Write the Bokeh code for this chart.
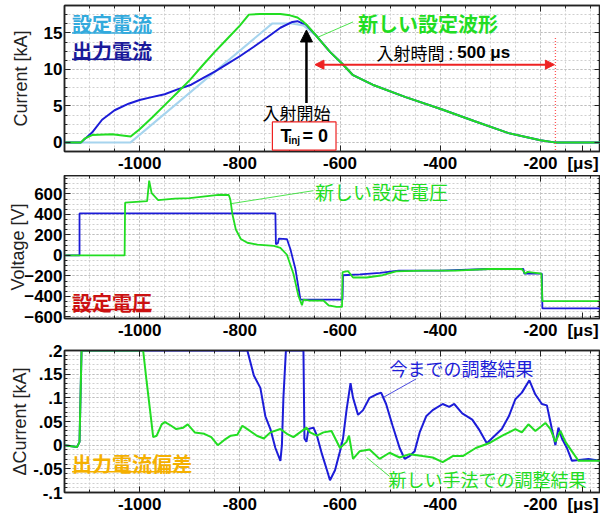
from bokeh.plotting import figure
from bokeh.layouts import column
from bokeh.models import (Range1d, SingleIntervalTicker, FixedTicker, LinearAxis, Label, Arrow,
                          NormalHead, BoxAnnotation, CustomJSTickFormatter, Grid)
from bokeh.embed import file_html
from bokeh.resources import INLINE

# ---------------- data (time in microseconds) ----------------
# top panel: current [kA]
cur_set_t = [-1150, -1018, -735, -700, -690, -673, -646, -620, -596, -574, -535, -469, -396, -331, -265, -200, -172, -80]
cur_set_kA = [0, 0, 16.3, 16.3, 16.2, 16.0, 14.5, 12.4, 10.8, 9.2, 7.9, 6.2, 4.5, 2.9, 1.3, 0.3, 0, 0]

cur_out_t = [-1150, -1117, -1095, -1075, -1050, -1022, -1000, -976, -950, -923, -897, -871, -850, -824, -800, -772,
             -745, -719, -695, -685, -675, -669, -646, -620, -596, -574, -535, -469, -396, -331, -265, -200, -172, -80]
cur_out_kA = [0, 0, 1.35, 3.1, 4.4, 5.3, 5.8, 6.2, 6.6, 7.3, 7.9, 8.9, 9.7, 10.8, 11.8, 13.1,
              14.4, 15.7, 16.5, 16.6, 16.3, 16.2, 14.5, 12.4, 10.8, 9.2, 7.9, 6.2, 4.5, 2.9, 1.3, 0.3, 0, 0]

cur_new_t = [-1150, -1117, -1110, -1095, -1055, -1018, -1000, -975, -950, -925, -899, -875, -850, -825, -800, -782,
             -760, -740, -719, -700, -685, -673, -665, -646, -620, -596, -574, -535, -469, -396, -331, -265, -200, -172, -80]
cur_new_kA = [0, 0, 0.5, 1.0, 1.1, 0.8, 1.8, 3.4, 5.1, 6.8, 8.6, 10.5, 12.4, 14.2, 16.0, 17.5,
              17.6, 17.6, 17.6, 17.4, 17.1, 16.5, 16.0, 14.5, 12.4, 10.8, 9.2, 7.9, 6.2, 4.5, 2.9, 1.3, 0.3, 0, 0]

# middle panel: voltage [V]
volt_old_t = [-1150, -1120, -1120, -729, -728, -724, -722, -706, -699, -689, -679, -672, -595, -594, -560, -520,
              -483, -400, -303, -234, -232, -197, -196, -80]
volt_old_V = [0, 0, 410, 410, 110, 120, 165, 160, 60, -133, -430, -430, -430, -193, -185, -170,
              -147, -147, -132, -132, -178, -178, -517, -517]

volt_new_t = [-1150, -1030, -1029, -985, -981, -976, -963, -930, -900, -843, -822, -819, -815, -808, -798, -785,
              -765, -732, -719, -706, -693, -683, -676, -673, -660, -633, -623, -607, -596, -595, -584, -574,
              -547, -515, -488, -435, -369, -303, -237, -230, -226, -198, -196, -80]
volt_new_V = [0, 0, 515, 530, 730, 607, 540, 555, 560, 592, 590, 546, 407, 253, 161, 124,
              105, 93, 75, 7, -178, -394, -486, -431, -440, -440, -486, -502, -502, -163, -153, -215,
              -215, -193, -156, -147, -147, -132, -132, -178, -160, -178, -446, -446]

# bottom panel: current deviation [kA]
dev_new_t = [-1150, -1125, -1120, -1116, -993, -986, -977, -973, -966, -956, -950, -937, -927, -913, -904, -890,
             -871, -857, -844, -831, -818, -805, -795, -785, -766, -752, -739, -719, -706, -693, -680, -667,
             -660, -646, -633, -617, -600, -587, -582, -574, -561, -541, -521, -501, -481, -461, -435, -415,
             -395, -375, -355, -329, -303, -276, -250, -237, -224, -210, -190, -180, -170, -160, -150, -137,
             -124, -104, -80]
dev_new_kA = [0, -0.004, 0.007, 0.2, 0.2, 0.134, 0.054, 0.017, 0.02, 0.044, 0.049, 0.041, 0.034, 0.037, 0.044, 0.027,
              0.024, 0.017, 0.0, 0.011, 0.02, 0.022, 0.041, 0.034, 0.02, 0.014, 0.027, 0.034, 0.024, 0.017, 0.027, 0.037,
              0.027, 0.02, 0.027, 0.03, -0.006, 0.007, 0.02, -0.029, -0.013, -0.009, -0.029, -0.016, -0.026, -0.019, -0.023, -0.026,
              -0.036, -0.023, -0.023, -0.006, 0.004, 0.02, 0.034, 0.027, 0.044, 0.03, 0.047, 0.034, 0.007, 0.03, 0.007, -0.013,
              -0.033, -0.033, -0.033]

dev_old_t = [-1150, -1125, -1120, -1116, -785, -772, -759, -749, -739, -729, -719, -716, -713, -708, -673, -671,
             -667, -663, -653, -646, -636, -626, -620, -610, -600, -594, -587, -579, -574, -564, -554, -541,
             -528, -518, -508, -495, -481, -471, -461, -451, -441, -428, -415, -395, -382, -372, -356, -336,
             -323, -307, -297, -277, -263, -250, -237, -222, -210, -197, -187, -177, -170, -164, -157, -147,
             -137, -104, -80]
dev_old_kA = [0, -0.004, 0.007, 0.2, 0.2, 0.147, 0.121, 0.061, 0.034, -0.006, -0.033, 0.0, 0.1, 0.2, 0.2, 0.014,
              0.007, 0.034, 0.037, 0.02, -0.019, -0.053, -0.074, -0.053, -0.013, 0.014, 0.074, 0.131, 0.1, 0.064, 0.074, 0.1,
              0.107, 0.111, 0.087, 0.041, -0.006, -0.029, -0.023, -0.013, 0.027, 0.061, 0.074, 0.087, 0.081, 0.087, 0.067, 0.054,
              0.034, 0.004, 0.014, 0.034, 0.061, 0.097, 0.111, 0.137, 0.107, 0.087, 0.084, 0.034, 0.0, 0.037, 0.014, -0.006,
              -0.033, -0.029, -0.033]

# x tick labels (the last tick carries the unit)
x_tick_values = [-1000, -800, -600, -400, -200, -115]
x_tick_unit = "[μs]"

# ---------------- styling ----------------
GREEN = "#22dd22"
BLUE = "#1c1cd8"
LIGHT = "#a6d4ee"
RED = "#ee2222"
NUM_FONT = "Liberation Sans"
JP_FONT = "Noto Sans CJK JP"
X_RANGE = (-1150, -80)


def style_axis(ax, labels):
    ax.axis_line_color = "#222222"
    ax.axis_line_width = 1.5
    ax.major_tick_in = 6
    ax.major_tick_out = 0
    ax.minor_tick_in = 3
    ax.minor_tick_out = 0
    ax.major_tick_line_color = "#222222"
    ax.minor_tick_line_color = "#222222"
    if labels:
        ax.major_label_text_font = NUM_FONT
        ax.major_label_text_font_size = "17px"
        ax.major_label_text_font_style = "bold"
        ax.major_label_text_color = "black"
        ax.major_label_standoff = 2
    else:
        ax.formatter = CustomJSTickFormatter(code="return '';")
        ax.major_label_text_font_size = "1px"
        ax.major_label_standoff = 0


def make_fig(height, yr, y_interval, y_minor, ylabel, label_standoff, border_top, formatter=None):
    p = figure(width=600, height=height, x_range=Range1d(*X_RANGE), y_range=Range1d(*yr),
               output_backend="svg", toolbar_location=None,
               min_border_left=64, min_border_right=0, min_border_top=border_top, min_border_bottom=0,
               x_axis_type=None, y_axis_type=None,
               background_fill_color="white", border_fill_color="white")
    p.outline_line_color = "#222222"
    p.outline_line_width = 1.5
    xt = SingleIntervalTicker(interval=200, num_minor_ticks=4)
    yt = SingleIntervalTicker(interval=y_interval, num_minor_ticks=y_minor)
    xt_lab = FixedTicker(ticks=x_tick_values, minor_ticks=list(range(-1150, -79, 50)))
    xfmt = CustomJSTickFormatter(args=dict(unit=x_tick_unit),
                                 code="return tick > -150 ? unit : tick.toFixed(0);")
    for loc in ("below", "above"):
        ax = LinearAxis(ticker=xt_lab if loc == "below" else xt)
        style_axis(ax, loc == "below")
        if loc == "below":
            ax.formatter = xfmt
        p.add_layout(ax, loc)
    for loc in ("left", "right"):
        ax = LinearAxis(ticker=yt)
        style_axis(ax, loc == "left")
        if loc == "left":
            ax.axis_label = ylabel
            ax.axis_label_text_font = NUM_FONT
            ax.axis_label_text_font_size = "18px"
            ax.axis_label_text_font_style = "normal"
            ax.axis_label_text_color = "#222222"
            ax.axis_label_standoff = label_standoff
            if formatter is not None:
                ax.formatter = formatter
        p.add_layout(ax, loc)
    for dim, tk in ((0, xt), (1, yt)):
        g = Grid(dimension=dim, ticker=tk)
        g.grid_line_color = "#bdbdbd"
        g.grid_line_dash = "2 2"
        g.minor_grid_line_color = "#cfcfcf"
        g.minor_grid_line_dash = "2 2"
        p.add_layout(g)
    return p


def text(p, x, y, s, color, size, bold=False, font=JP_FONT, align="left"):
    p.add_layout(Label(x=x, y=y, text=s, text_color=color, text_font=font,
                       text_font_size=f"{size}px", text_font_style="bold" if bold else "normal",
                       text_align=align, text_baseline="middle"))


def seg(p, x0, y0, x1, y1, color, width=1.0, dash="solid", start=None, end=None):
    p.add_layout(Arrow(x_start=x0, y_start=y0, x_end=x1, y_end=y1, start=start, end=end,
                       line_color=color, line_width=width, line_dash=dash))


# ---------------- top: current ----------------
p1 = make_fig(175, (-1.25, 18.75), 5, 4, "Current [kA]", 10, 5)
p1.line(cur_set_t, cur_set_kA, color=LIGHT, line_width=2)
p1.line(cur_out_t, cur_out_kA, color=BLUE, line_width=2)
p1.line(cur_new_t, cur_new_kA, color=GREEN, line_width=2)

text(p1, -1135, 16.3, "設定電流", "#33aadd", 20, bold=True)
seg(p1, -1135, 15.0, -978, 15.0, "#33aadd", 1.5)
text(p1, -1135, 12.6, "出力電流", "#1a1a9a", 20, bold=True)
seg(p1, -1135, 11.4, -978, 11.4, "#1a1a9a", 1.5)
text(p1, -564, 16.3, "新しい設定波形", GREEN, 20, bold=True)
seg(p1, -646, 14.35, -574, 16.5, GREEN, 0.8)

seg(p1, -667, 5.4, -667, 15.4, "black", 2.5,
    end=NormalHead(size=12, fill_color="black", line_color="black"))
text(p1, -687, 4.1, "入射開始", "black", 17, align="center")
p1.add_layout(BoxAnnotation(left=-735, right=-608, bottom=-1.05, top=2.8,
                            fill_color="white", fill_alpha=1.0, line_color=RED,
                            line_width=1.2, line_alpha=1.0))
text(p1, -719, 0.85, "T", "black", 18, bold=True, font=NUM_FONT)
text(p1, -703, 0.3, "inj", "black", 10, bold=True, font=NUM_FONT)
text(p1, -675, 0.85, "= 0", "black", 18, bold=True, font=NUM_FONT)

seg(p1, -650, 10.65, -172, 10.65, RED, 2,
    start=NormalHead(size=9, fill_color=RED, line_color=RED),
    end=NormalHead(size=9, fill_color=RED, line_color=RED))
seg(p1, -170, 14.3, -170, -1.25, "#ff5555", 1.3, dash="1 2")
text(p1, -527, 12.35, "入射時間 :", "black", 17)
text(p1, -366, 12.35, "500 μs", "black", 17, bold=True, font=NUM_FONT)

# ---------------- middle: voltage ----------------
p2 = make_fig(167, (-615, 780), 200, 4, "Voltage [V]", -7, 0)
p2.line(volt_old_t, volt_old_V, color=BLUE, line_width=1.8)
p2.line(volt_new_t, volt_new_V, color=GREEN, line_width=1.8)
seg(p2, -818, 505, -653, 632, GREEN, 0.8)
text(p2, -650, 623, "新しい設定電圧", GREEN, 19)
text(p2, -1135, -458, "設定電圧", "#cc1111", 20, bold=True)
seg(p2, -1135, -527, -976, -527, "#cc1111", 1.5)

# ---------------- bottom: current deviation ----------------
fmt = CustomJSTickFormatter(code="""
    if (Math.abs(tick) < 1e-9) { return "0"; }
    let s = tick.toFixed(2).replace(/0+$/, '').replace(/\\.$/, '');
    return s.replace(/^(-?)0\\./, '$1.');
""")
p3 = make_fig(174, (-0.1, 0.2), 0.05, 5, "ΔCurrent [kA]", 0, 8, formatter=fmt)
p3.line(dev_old_t, dev_old_kA, color=BLUE, line_width=2)
p3.line(dev_new_t, dev_new_kA, color=GREEN, line_width=2)
text(p3, -501, 0.162, "今までの調整結果", BLUE, 18)
seg(p3, -515, 0.1, -448, 0.14, BLUE, 0.8)
text(p3, -503, -0.072, "新しい手法での調整結果", GREEN, 18)
seg(p3, -547, -0.026, -501, -0.066, GREEN, 0.8)
text(p3, -1135, -0.038, "出力電流偏差", "#f5b000", 20, bold=True)
seg(p3, -1135, -0.056, -897, -0.056, "#f5b000", 1.5)

layout = column(p1, p2, p3, spacing=0)
open("out.html", "w").write(file_html(layout, INLINE))
